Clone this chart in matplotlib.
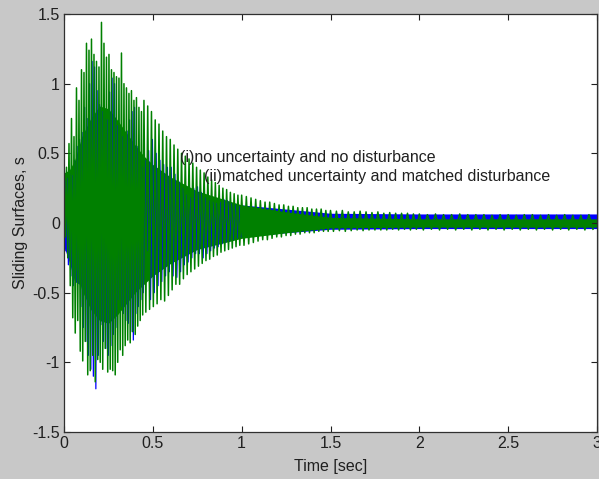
import numpy as np
import matplotlib.pyplot as plt

plt.rcParams['font.family'] = ['Liberation Sans', 'DejaVu Sans']
plt.rcParams['axes.unicode_minus'] = False

# time segments in which the spikes have roughly constant spacing
seg_edges = [0.0, 0.45, 1.0, 1.5, 2.0, 3.0]

# (ii) matched uncertainty / disturbance -> green, peak values per cycle
green_top = [
    [0.37, 0.40, 0.57, 0.75, 0.62, 0.97, 0.88, 1.10, 1.08, 1.29, 1.24, 1.32, 1.21, 1.16, 1.12, 1.44,
     1.29, 1.19, 1.21, 1.10, 1.08, 1.05, 1.04, 1.22, 1.00, 0.97, 0.93, 0.95, 0.88, 0.90, 0.83, 0.80],
    [0.88, 0.84, 0.80, 0.74, 0.71, 0.66, 0.62, 0.60, 0.56, 0.53, 0.50, 0.48, 0.46, 0.43, 0.40, 0.38,
     0.36, 0.33, 0.31, 0.29, 0.27, 0.25, 0.24, 0.22, 0.21, 0.20],
    [0.20, 0.19, 0.18, 0.17, 0.16, 0.15, 0.15, 0.14, 0.13, 0.13, 0.12, 0.12, 0.11, 0.11, 0.11, 0.10,
     0.10, 0.10, 0.09],
    [0.09, 0.085, 0.09, 0.08, 0.08, 0.085, 0.08, 0.075, 0.08, 0.07, 0.075, 0.07, 0.07, 0.07, 0.065],
    [0.065, 0.06, 0.065, 0.06, 0.06, 0.065, 0.06, 0.06, 0.06, 0.055, 0.06, 0.06, 0.055, 0.06, 0.06,
     0.055, 0.06, 0.055, 0.06, 0.055, 0.055, 0.06],
]
green_bottom = [
    [-0.10, -0.25, -0.45, -0.68, -0.79, -0.70, -0.92, -0.99, -0.85, -1.09, -1.06, -0.95, -1.14, -0.98,
     -1.00, -1.05, -0.90, -1.07, -1.05, -1.06, -1.09, -1.00, -0.91, -0.95, -0.88, -0.84, -0.86, -0.78,
     -0.80, -0.74, -0.70, -0.66],
    [-0.64, -0.62, -0.60, -0.58, -0.55, -0.56, -0.52, -0.48, -0.44, -0.44, -0.40, -0.37, -0.35, -0.33,
     -0.31, -0.29, -0.27, -0.26, -0.24, -0.23, -0.21, -0.20, -0.19, -0.18, -0.17, -0.16],
    [-0.16, -0.15, -0.14, -0.13, -0.12, -0.12, -0.11, -0.10, -0.10, -0.09, -0.09, -0.08, -0.08, -0.07,
     -0.07, -0.07, -0.06, -0.06, -0.06],
    [-0.06, -0.055, -0.06, -0.055, -0.05, -0.055, -0.05, -0.05, -0.05, -0.05, -0.045, -0.05, -0.045,
     -0.05, -0.045],
    [-0.05, -0.045, -0.05, -0.045, -0.05, -0.045, -0.05, -0.045, -0.05, -0.045, -0.05, -0.045, -0.05,
     -0.045, -0.05, -0.045, -0.05, -0.045, -0.05, -0.045, -0.05, -0.045],
]

# (i) no uncertainty / no disturbance -> blue
blue_top = [
    [0.30, 0.32, 0.35, 0.34, 0.45, 0.55, 0.60, 0.65, 0.83, 0.75, 1.00, 1.16, 1.12, 0.95, 0.85, 0.80,
     0.75, 0.74, 0.94, 1.04, 1.00, 0.70, 0.68, 0.62, 0.60, 0.66, 0.74, 0.80, 0.83, 0.55, 0.45, 0.40],
    [0.45, 0.52, 0.60, 0.50, 0.45, 0.42, 0.40, 0.40, 0.35, 0.30, 0.25, 0.20, 0.18, 0.25, 0.26, 0.22,
     0.18, 0.16, 0.15, 0.14, 0.15, 0.17, 0.16, 0.14, 0.13, 0.12],
]
blue_bottom = [
    [-0.20, -0.30, -0.38, -0.45, -0.42, -0.40, -0.60, -0.75, -0.85, -0.95, -1.05, -1.10, -1.19, -0.95,
     -0.73, -0.85, -0.90, -0.95, -0.88, -0.80, -0.75, -0.55, -0.60, -0.65, -0.70, -0.72, -0.78, -0.84,
     -0.65, -0.60, -0.55, -0.50],
    [-0.20, -0.55, -0.50, -0.45, -0.42, -0.38, -0.35, -0.38, -0.39, -0.35, -0.30, -0.28, -0.25, -0.22,
     -0.22, -0.25, -0.22, -0.20, -0.18, -0.17, -0.15, -0.14, -0.13, -0.12, -0.11, -0.10],
]

# solid (chattering) band of each signal
core_t = [0.0, 0.03, 0.06, 0.1, 0.15, 0.2, 0.25, 0.3, 0.35, 0.4, 0.45, 0.5, 0.6, 0.75, 1.0, 1.25, 1.5,
          2.0, 2.5, 3.0]
green_core_hi = [0.36, 0.38, 0.45, 0.62, 0.75, 0.84, 0.82, 0.74, 0.65, 0.56, 0.48, 0.42, 0.33, 0.23,
                 0.13, 0.08, 0.04, 0.03, 0.03, 0.03]
green_core_lo = [-0.05, -0.15, -0.30, -0.48, -0.62, -0.70, -0.72, -0.66, -0.58, -0.50, -0.44, -0.38,
                 -0.29, -0.19, -0.11, -0.07, -0.035, -0.03, -0.03, -0.03]
blue_core_hi = [0.33, 0.35, 0.40, 0.50, 0.60, 0.66, 0.64, 0.58, 0.50, 0.44, 0.38, 0.33, 0.27, 0.18,
                0.13, 0.10, 0.07, 0.065, 0.065, 0.065]
blue_core_lo = [-0.17, -0.28, -0.42, -0.45, -0.55, -0.60, -0.62, -0.58, -0.53, -0.45, -0.40, -0.35,
                -0.26, -0.17, -0.10, -0.07, -0.045, -0.04, -0.04, -0.04]

xticks = [0, 0.5, 1, 1.5, 2, 2.5, 3]
xtick_labels = ['0', '0.5', '1', '1.5', '2', '2.5', '3']
yticks = [-1.5, -1, -0.5, 0, 0.5, 1, 1.5]
ytick_labels = ['-1.5', '-1', '-0.5', '0', '0.5', '1', '1.5']


def zigzag(tops, bottoms, shift):
    # interleave each cycle's top and bottom peak into one polyline
    ts, vs = [], []
    for k, (up, dn) in enumerate(zip(tops, bottoms)):
        t0, t1 = seg_edges[k], seg_edges[k + 1]
        step = (t1 - t0) / len(up)
        for i in range(len(up)):
            ts += [t0 + step * (i + shift), t0 + step * (i + shift + 0.5)]
            vs += [up[i], dn[i]]
    return ts, vs


blue = '#0000ff'
green = '#008000'

fig = plt.figure(figsize=(5.99, 4.79), dpi=100, facecolor='#c8c8c8')
ax = fig.add_axes([64 / 599, 47 / 479, 533 / 599, 418 / 479])
ax.set_facecolor('white')

# blue first so that green lies on top
ax.fill_between(core_t, blue_core_lo, blue_core_hi, color=blue, lw=0)
bt, bv = zigzag(blue_top, blue_bottom, 0.25)
ax.plot(bt, bv, color=blue, lw=0.9)

ax.fill_between(core_t, green_core_lo, green_core_hi, color=green, lw=0)
gt, gv = zigzag(green_top, green_bottom, 0.0)
ax.plot(gt, gv, color=green, lw=1.1)

ax.text(0.653, 0.47, '(i)no uncertainty and no disturbance', fontsize=11.5, color='#202020',
        va='center')
ax.text(0.79, 0.335, '(ii)matched uncertainty and matched disturbance', fontsize=11.5,
        color='#202020', va='center')

ax.set_xlim(0, 3)
ax.set_ylim(-1.5, 1.5)
ax.set_xticks(xticks)
ax.set_xticklabels(xtick_labels)
ax.set_yticks(yticks)
ax.set_yticklabels(ytick_labels)
ax.tick_params(direction='in', top=True, right=True, length=4, width=0.8, labelsize=11.5,
               colors='#202020', pad=3)
for s in ax.spines.values():
    s.set_color('#303030')
    s.set_linewidth(0.9)

ax.set_xlabel('Time [sec]', fontsize=11.5, color='#202020', labelpad=6)
ax.set_ylabel('Sliding Surfaces, s', fontsize=11.5, color='#202020', labelpad=3)

fig.savefig('out.png', dpi=100, facecolor=fig.get_facecolor())
